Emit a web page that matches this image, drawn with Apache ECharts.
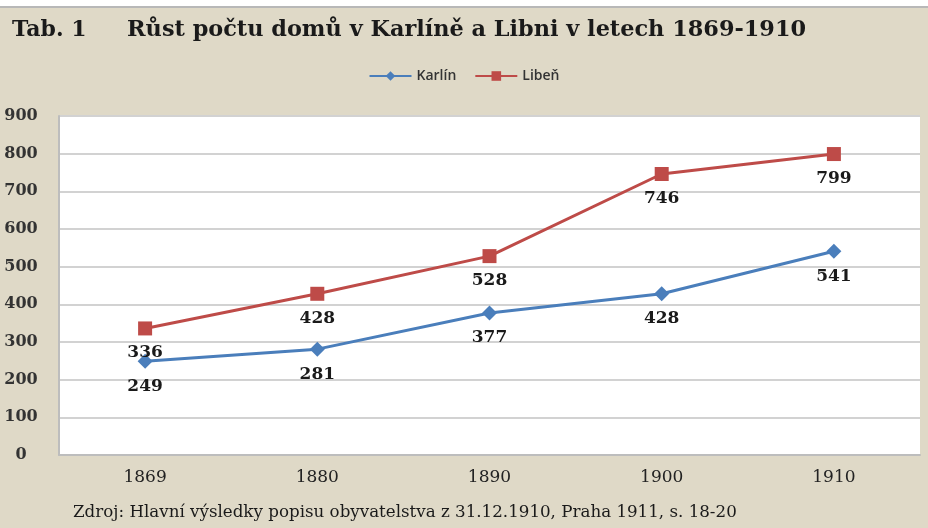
<!DOCTYPE html>
<html>
<head>
<meta charset="utf-8">
<script src="https://cdn.jsdelivr.net/npm/echarts@6/dist/echarts.min.js"></script>
<style>
  html, body { margin: 0; padding: 0; background: #dfd9c7; }
  #main { width: 928px; height: 528px; }
</style>
</head>
<body>
<div id="main"></div>
<script>
var years = ['1869', '1880', '1890', '1900', '1910'];
var karlin = [249, 281, 377, 428, 541];
var liben = [336, 428, 528, 746, 799];

var myChart = echarts.init(document.getElementById('main'));

var serif = 'DejaVu Serif';

var option = {
  backgroundColor: '#dfd9c7',
  animation: false,
  graphic: [
    { type: 'rect', left: 0, top: 0, shape: { width: 928, height: 6 }, style: { fill: '#ffffff' } },
    { type: 'rect', left: 0, top: 6, shape: { width: 928, height: 2 }, style: { fill: '#b8b8b8' } },
    {
      type: 'text', left: 12, top: 19,
      style: { text: 'Tab. 1', font: 'bold 22px "DejaVu Serif"', fill: '#1a1a1a' }
    },
    {
      type: 'text', left: 127, top: 19,
      style: { text: 'Růst počtu domů v Karlíně a Libni v letech 1869-1910', font: 'bold 22.4px "DejaVu Serif"', fill: '#1a1a1a' }
    },
    {
      type: 'text', left: 73, top: 504,
      style: { text: 'Zdroj: Hlavní výsledky popisu obyvatelstva z 31.12.1910, Praha 1911, s. 18-20', font: '16.7px "DejaVu Serif"', fill: '#1a1a1a' }
    }
  ],
  legend: {
    top: 64,
    left: 'center',
    itemWidth: 42,
    itemHeight: 12,
    itemGap: 18,
    textStyle: { fontFamily: 'Open Sans', fontSize: 14, fontWeight: 600, color: '#333' },
    data: ['Karlín', 'Libeň']
  },
  grid: {
    left: 59, right: 8, top: 116, bottom: 73, containLabel: false,
    show: true, backgroundColor: '#ffffff', borderWidth: 0
  },
  xAxis: {
    type: 'category',
    data: years,
    boundaryGap: true,
    axisLine: { lineStyle: { color: '#bdbdbd', width: 2 } },
    axisTick: { show: false },
    axisLabel: { margin: 14, fontFamily: serif, fontSize: 17, color: '#222' }
  },
  yAxis: {
    type: 'value',
    min: 0,
    max: 900,
    interval: 100,
    axisLine: { show: true, lineStyle: { color: '#bdbdbd', width: 2 } },
    axisTick: { show: false },
    splitLine: { lineStyle: { color: '#d2d2d2', width: 2 } },
    axisLabel: { margin: 38, align: 'center', fontFamily: serif, fontSize: 16, fontWeight: 'bold', color: '#333' }
  },
  series: [
    {
      name: 'Karlín',
      type: 'line',
      data: karlin,
      symbol: 'diamond',
      symbolSize: 15,
      color: '#4a7ebb',
      lineStyle: { width: 3 },
      label: {
        show: true, position: 'bottom', distance: 9,
        fontFamily: serif, fontSize: 17, fontWeight: 'bold', color: '#1a1a1a'
      }
    },
    {
      name: 'Libeň',
      type: 'line',
      data: liben,
      symbol: 'rect',
      symbolSize: 14,
      color: '#be4b48',
      lineStyle: { width: 3 },
      label: {
        show: true, position: 'bottom', distance: 9,
        fontFamily: serif, fontSize: 17, fontWeight: 'bold', color: '#1a1a1a'
      }
    }
  ]
};

myChart.setOption(option);
</script>
</body>
</html>
